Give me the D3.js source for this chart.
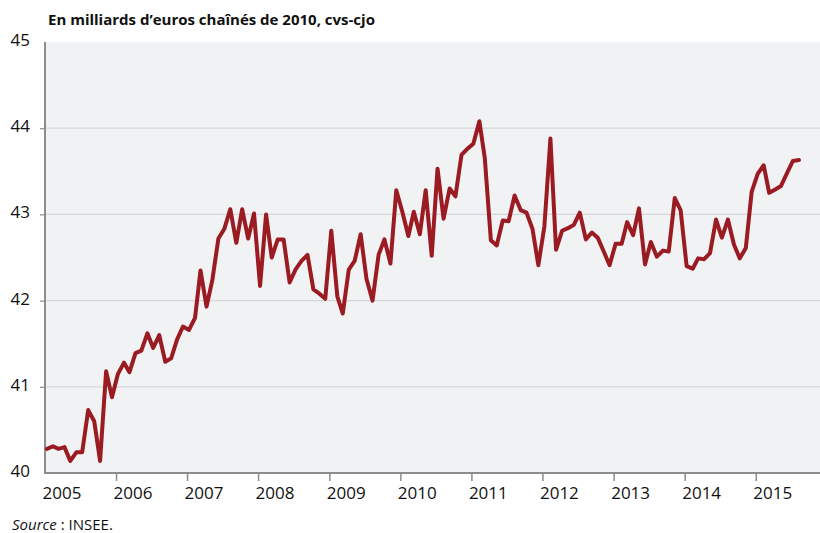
<!DOCTYPE html>
<html>
<head>
<meta charset="utf-8">
<script src="https://cdn.jsdelivr.net/npm/d3@7"></script>
<style>
  body { margin: 0; background: #fff; }
  svg { display: block; font-family: "Open Sans", sans-serif; }
</style>
</head>
<body>
<script>
// monthly series, starting January 2005
var startYear = 2005;
var values = [
  40.28, 40.31, 40.28, 40.30, 40.14, 40.24, 40.24, 40.73, 40.60, 40.14, 41.18, 40.88,
  41.15, 41.28, 41.17, 41.39, 41.42, 41.62, 41.45, 41.60, 41.29, 41.33, 41.55, 41.70,
  41.66, 41.80, 42.35, 41.93, 42.24, 42.72, 42.83, 43.06, 42.67, 43.06, 42.72, 43.01,
  42.17, 43.00, 42.50, 42.71, 42.71, 42.21, 42.36, 42.46, 42.53, 42.13, 42.08, 42.02,
  42.81, 42.05, 41.85, 42.36, 42.46, 42.77, 42.25, 42.00, 42.53, 42.71, 42.43, 43.28,
  43.03, 42.75, 43.03, 42.77, 43.28, 42.52, 43.53, 42.95, 43.30, 43.21, 43.69, 43.76,
  43.82, 44.08, 43.65, 42.70, 42.64, 42.93, 42.92, 43.22, 43.05, 43.02, 42.83, 42.41,
  42.86, 43.88, 42.59, 42.81, 42.84, 42.88, 43.02, 42.71, 42.79, 42.73, 42.57, 42.41,
  42.66, 42.66, 42.91, 42.76, 43.07, 42.42, 42.68, 42.51, 42.58, 42.57, 43.19, 43.05,
  42.40, 42.37, 42.49, 42.48, 42.55, 42.94, 42.73, 42.94, 42.65, 42.49, 42.61, 43.26,
  43.47, 43.57, 43.25, 43.29, 43.33, 43.48, 43.62, 43.63
];
var years = [2005, 2006, 2007, 2008, 2009, 2010, 2011, 2012, 2013, 2014, 2015];
var yTicks = [40, 41, 42, 43, 44, 45];

var data = values.map(function(v, i) {
  return { date: new Date(startYear, i, 11), value: v };
});

var W = 820, H = 533;
var plot = {left: 45, top: 42, bottom: 473, right: 820};

var svg = d3.select("body").append("svg")
    .attr("width", W)
    .attr("height", H);

var x = d3.scaleTime()
    .domain([new Date(2005, 0, 1), new Date(2016, 0, 1)])
    .range([plot.left, plot.left + 11 * 71.07]);

var y = d3.scaleLinear()
    .domain([40, 45])
    .range([plot.bottom, plot.top]);

// plot background
svg.append("rect")
    .attr("x", plot.left)
    .attr("y", plot.top)
    .attr("width", plot.right - plot.left)
    .attr("height", plot.bottom - plot.top)
    .attr("fill", "#f1f2f4");

// gridlines
svg.append("g")
  .selectAll("line")
  .data(yTicks.slice(1, -1))
  .enter().append("line")
    .attr("x1", plot.left)
    .attr("x2", plot.right)
    .attr("y1", function(d) { return y(d); })
    .attr("y2", function(d) { return y(d); })
    .attr("stroke", "#d6d7da")
    .attr("stroke-width", 1.2);

// y axis
var yAxis = svg.append("g")
    .attr("transform", "translate(" + plot.left + ",0)")
    .call(d3.axisLeft(y).tickValues(yTicks).tickSize(5).tickFormat(d3.format("d")))
    .attr("font-family", null);
yAxis.select(".domain").remove();
yAxis.selectAll(".tick line").attr("stroke", "#8c8c8c").attr("stroke-width", 1.2);
yAxis.selectAll(".tick text")
    .attr("x", -15)
    .attr("dy", "0.2em")
    .attr("fill", "#111")
    .style("font-size", "17px");
yAxis.select(".tick:last-of-type line").remove();
yAxis.select(".tick:first-of-type line").remove();

svg.append("line")
    .attr("x1", plot.left).attr("x2", plot.left)
    .attr("y1", plot.top).attr("y2", plot.bottom + 1)
    .attr("stroke", "#8c8c8c")
    .attr("stroke-width", 2);

// x axis
var xAxis = svg.append("g")
    .attr("transform", "translate(0," + plot.bottom + ")")
    .call(d3.axisBottom(x)
      .tickValues(years.map(function(d) { return new Date(d, 0, 1); }))
      .tickSize(8)
      .tickFormat(d3.timeFormat("%Y")))
    .attr("font-family", null);
xAxis.select(".domain").remove();
xAxis.selectAll(".tick line").attr("stroke", "#8c8c8c").attr("stroke-width", 1.5);
xAxis.select(".tick:first-of-type line").remove();
xAxis.selectAll(".tick text")
    .attr("text-anchor", "start")
    .attr("x", -3)
    .attr("y", 14)
    .attr("dy", "0.71em")
    .attr("fill", "#111")
    .style("font-size", "17px");

svg.append("line")
    .attr("x1", plot.left - 1).attr("x2", plot.right)
    .attr("y1", plot.bottom).attr("y2", plot.bottom)
    .attr("stroke", "#8c8c8c")
    .attr("stroke-width", 2);

// the series
var line = d3.line()
    .x(function(d) { return x(d.date); })
    .y(function(d) { return y(d.value); });

svg.append("path")
    .datum(data)
    .attr("d", line)
    .attr("fill", "none")
    .attr("stroke", "#9b1b22")
    .attr("stroke-width", 4)
    .attr("stroke-linejoin", "round")
    .attr("stroke-linecap", "round");

// title and source
svg.append("text")
    .attr("x", 48)
    .attr("y", 25)
    .attr("font-weight", "bold")
    .attr("fill", "#111")
    .style("font-size", "15px")
    .text("En milliards d\u2019euros chaînés de 2010, cvs-cjo");

var src = svg.append("text")
    .attr("x", 12)
    .attr("y", 530)
    .attr("fill", "#111")
    .style("font-size", "15px");
src.append("tspan").attr("font-style", "italic").text("Source");
src.append("tspan").text(" : INSEE.");
</script>
</body>
</html>
